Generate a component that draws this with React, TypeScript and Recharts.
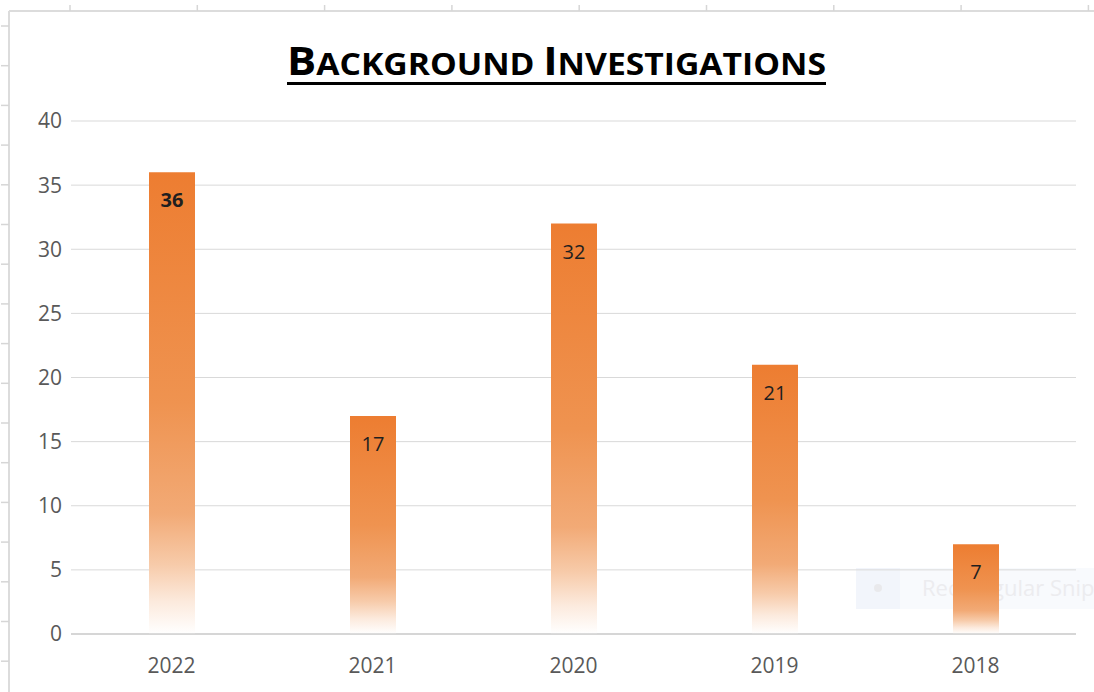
import React from 'react';
import { BarChart, Bar, XAxis, YAxis, CartesianGrid, LabelList } from 'recharts';

const years = ['2022', '2021', '2020', '2019', '2018'];
const counts = [36, 17, 32, 21, 7];
const emphasis = [true, false, false, false, false];
const yTicks = [0, 5, 10, 15, 20, 25, 30, 35, 40];
const titleParts = [
  { text: 'B', big: true },
  { text: 'ACKGROUND ', big: false },
  { text: 'I', big: true },
  { text: 'NVESTIGATIONS', big: false },
];

const data = years.map((y, i) => ({ year: y, count: counts[i] }));

const W = 1094;
const H = 692;
const FONT = "'Open Sans', 'Noto Sans', sans-serif";

const renderLabel = (props: any) => {
  const { x, y, width, value, index } = props;
  return (
    <text
      x={Number(x) + Number(width) / 2}
      y={Number(y) + 35}
      textAnchor="middle"
      fontSize={20}
      fontFamily={FONT}
      fontWeight={emphasis[index] ? 700 : 400}
      fill="#1f1f1f"
    >
      {value}
    </text>
  );
};

const Background = () => {
  const topTicks: number[] = [];
  for (let i = 0; i < 9; i++) topTicks.push(70 + i * 127.3);
  const leftTicks: number[] = [];
  for (let i = 0; i < 17; i++) leftTicks.push(26 + i * 39.7);
  return (
    <svg width={W} height={H} style={{ position: 'absolute', left: 0, top: 0 }}>
      <rect x={0} y={0} width={W} height={H} fill="#ffffff" />
      <line x1={9} y1={11} x2={W} y2={11} stroke="#dcdcdc" strokeWidth={2} />
      <line x1={9} y1={11} x2={9} y2={H} stroke="#dcdcdc" strokeWidth={2} />
      {topTicks.map((x, i) => (
        <line key={'t' + i} x1={x} y1={5} x2={x} y2={11} stroke="#d6d6d6" strokeWidth={1.5} />
      ))}
      {leftTicks.map((y, i) => (
        <line key={'l' + i} x1={1} y1={y} x2={9} y2={y} stroke="#d6d6d6" strokeWidth={1.5} />
      ))}
      <g>
        <rect x={856} y={568} width={238} height={41} fill="#f8fafd" />
        <rect x={856} y={568} width={44} height={41} fill="#f2f5fb" />
        <circle cx={878} cy={588} r={4} fill="#e9e9ec" />
        <text x={922} y={596} fontSize={22} fontFamily="'Segoe UI', 'Open Sans', sans-serif" fill="#ececef">
          Rectangular Snip
        </text>
      </g>
      <text
        x={287}
        y={75}
        textLength={539}
        lengthAdjust="spacingAndGlyphs"
        fontFamily={FONT}
        fontWeight={700}
        fill="#000000"
      >
        {titleParts.map((p, i) => (
          <tspan key={i} fontSize={p.big ? 40 : 31}>
            {p.text}
          </tspan>
        ))}
      </text>
      <rect x={287} y={82} width={539} height={3} fill="#000000" />
    </svg>
  );
};

export default function App() {
  return (
    <div style={{ position: 'absolute', left: 0, top: 0, width: W, height: H, background: '#fff' }}>
      <Background />
      <div style={{ position: 'absolute', left: 0, top: 0 }}>
        <BarChart
          width={W}
          height={H}
          data={data}
          margin={{ top: 121, right: 18, bottom: 28, left: 0 }}
          barSize={46}
        >
          <defs>
            <linearGradient id="barGrad" x1="0" y1="0" x2="0" y2="1">
              <stop offset="0" stopColor="#ED7D31" />
              <stop offset="0.5" stopColor="#EF9350" />
              <stop offset="0.74" stopColor="#F2AA76" />
              <stop offset="0.85" stopColor="#F7CBAA" />
              <stop offset="0.93" stopColor="#FCEADD" />
              <stop offset="1" stopColor="#FFFFFF" />
            </linearGradient>
          </defs>
          <CartesianGrid vertical={false} stroke="#d9d9d9" strokeWidth={1} />
          <XAxis
            dataKey="year"
            axisLine={{ stroke: '#cfcfcf', strokeWidth: 1.5 }}
            tickLine={false}
            tickSize={0}
            tickMargin={24}
            height={30}
            tick={{ fontSize: 21, fill: '#595959', fontFamily: FONT }}
          />
          <YAxis
            domain={[0, 40]}
            ticks={yTicks}
            interval={0}
            axisLine={false}
            tickLine={false}
            tickSize={0}
            tickMargin={9}
            width={71}
            tick={{ fontSize: 21, fill: '#595959', fontFamily: FONT }}
          />
          <Bar dataKey="count" fill="url(#barGrad)" isAnimationActive={false}>
            <LabelList dataKey="count" content={renderLabel} />
          </Bar>
        </BarChart>
      </div>
    </div>
  );
}
